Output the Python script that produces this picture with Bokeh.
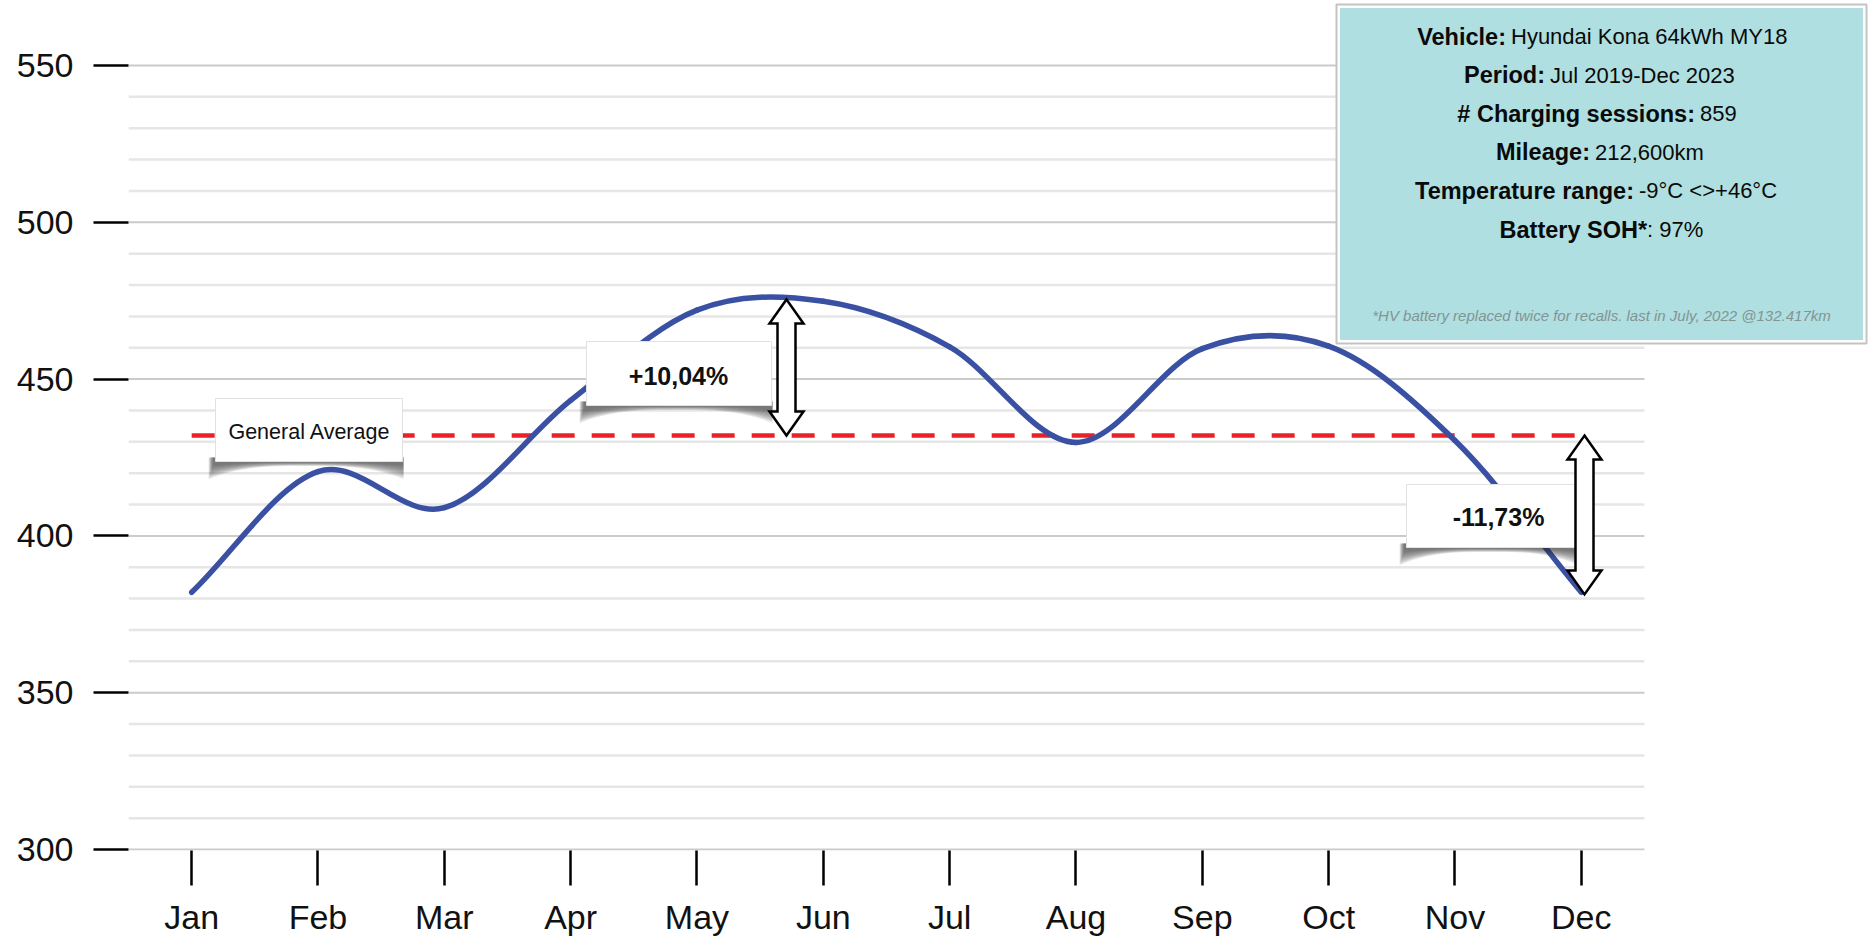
import numpy as np
from bokeh.plotting import figure
from bokeh.models import Range1d, FixedTicker, Label, BoxAnnotation
from bokeh.embed import file_html
from bokeh.resources import INLINE

# ---------------- data ----------------
months = ["Jan", "Feb", "Mar", "Apr", "May", "Jun", "Jul", "Aug", "Sep", "Oct", "Nov", "Dec"]
values = [382.0, 420.5, 409.0, 443.2, 472.0, 474.8, 460.3, 429.8, 459.7, 460.5, 430.4, 382.0]
general_average = 432.0
pct_above = 10.04
pct_below = -11.73
y_ticks = [300, 350, 400, 450, 500, 550]
y_minor_ticks = [310, 320, 330, 340, 360, 370, 380, 390, 410, 420, 430, 440,
                 460, 470, 480, 490, 510, 520, 530, 540]
info_bold = ["Vehicle:", "Period:", "# Charging sessions:", "Mileage:", "Temperature range:", "Battery SOH*"]
info_regular = ["Hyundai Kona 64kWh MY18", "Jul 2019-Dec 2023", "859", "212,600km", "-9°C <>+46°C", ": 97%"]
info_note = "*HV battery replaced twice for recalls. last in July, 2022 @132.417km"
avg_label = "General Average"

# ---------------- layout helpers (page pixels -> data) ----------------
W, H = 1870, 939
LEFT, TOP = 128, 0
FW, FH = W - LEFT, 850
SX = 126.33                      # px per month
SY = 3.136                       # px per unit
X0 = -0.5
X1 = X0 + FW / SX
Y1 = 550 + 65 / SY
Y0 = Y1 - FH / SY
PLOT_RIGHT = X0 + len(months)    # end of the gridded plot area


def X(px):
    return X0 + (px - LEFT) / SX


def Y(py):
    return Y1 - (py - TOP) / SY


def DX(d):
    return d / SX


def DY(d):
    return d / SY


FONT = "Liberation Sans"

p = figure(frame_width=FW, frame_height=FH,
           x_range=Range1d(X0, X1), y_range=Range1d(Y0, Y1),
           min_border_left=LEFT, min_border_right=0, min_border_top=TOP,
           min_border_bottom=H - FH - TOP,
           output_backend="svg", toolbar_location=None)
p.outline_line_color = None
p.background_fill_color = "white"
p.border_fill_color = "white"

# axes
p.xaxis.ticker = FixedTicker(ticks=list(range(len(months))))
p.xaxis.major_label_overrides = {i: m for i, m in enumerate(months)}
p.yaxis.ticker = FixedTicker(ticks=y_ticks)
for ax in (p.xaxis[0], p.yaxis[0]):
    ax.axis_line_color = None
    ax.major_tick_in = 0
    ax.major_tick_out = 35
    ax.major_tick_line_color = "black"
    ax.major_tick_line_width = 2.5
    ax.minor_tick_line_color = None
    ax.major_label_text_font = FONT
    ax.major_label_text_font_size = "34px"
    ax.major_label_text_color = "#111111"
p.yaxis.major_label_standoff = 20
p.xaxis.major_label_standoff = 12

# horizontal gridlines limited to the month area
p.xgrid.grid_line_color = None
p.ygrid.grid_line_color = None
p.segment(x0=[X0] * len(y_minor_ticks), y0=y_minor_ticks, x1=[PLOT_RIGHT] * len(y_minor_ticks),
          y1=y_minor_ticks, line_color="#e6e6e6", line_width=2.5)
p.segment(x0=[X0] * len(y_ticks), y0=y_ticks, x1=[PLOT_RIGHT] * len(y_ticks),
          y1=y_ticks, line_color="#cbcbcb", line_width=2)

# general average line
xs = list(range(len(months)))
p.line([xs[0], xs[-1]], [general_average, general_average], line_color="#ea2228",
       line_width=4.5, line_dash="23 17")

# smooth curve (Catmull-Rom through the monthly values)
px = np.array(xs, dtype=float)
py = np.array(values, dtype=float)
ppx = np.concatenate([[2 * px[0] - px[1]], px, [2 * px[-1] - px[-2]]])
ppy = np.concatenate([[2 * py[0] - py[1]], py, [2 * py[-1] - py[-2]]])
x0s, y0s, x1s, y1s, cx0, cy0, cx1, cy1 = [], [], [], [], [], [], [], []
for i in range(len(px) - 1):
    P0x, P1x, P2x, P3x = ppx[i], ppx[i + 1], ppx[i + 2], ppx[i + 3]
    P0y, P1y, P2y, P3y = ppy[i], ppy[i + 1], ppy[i + 2], ppy[i + 3]
    x0s.append(P1x); y0s.append(P1y); x1s.append(P2x); y1s.append(P2y)
    cx0.append(P1x + (P2x - P0x) / 6); cy0.append(P1y + (P2y - P0y) / 6)
    cx1.append(P2x - (P3x - P1x) / 6); cy1.append(P2y - (P3y - P1y) / 6)
p.bezier(x0=x0s, y0=y0s, x1=x1s, y1=y1s, cx0=cx0, cy0=cy0, cx1=cx1, cy1=cy1,
         line_color="#3a50a2", line_width=5.5, line_cap="round")


# label boxes with "paper lift" shadows
def shadow(l, r, b):
    t = np.linspace(0, 1, 61)
    n = 14
    for k in range(n):
        f = 1 - k / n
        depth = 3 + 15 * f
        mid = 0.5 + 4 * f
        xl, xr = l - 2 - 5 * f, r + 1
        xb = xl + (xr - xl) * t
        yb = b + mid + (depth - mid) * np.abs(2 * t - 1) ** 3
        sx = [X(xl), X(xr)] + [X(v) for v in xb[::-1]]
        sy = [Y(b - 4), Y(b - 4)] + [Y(v) for v in yb[::-1]]
        p.patch(sx, sy, fill_color="#282828", fill_alpha=0.065, line_color=None)


def paper_box(l, r, t, b):
    shadow(l, r, b)
    p.quad(left=[X(l)], right=[X(r)], top=[Y(t)], bottom=[Y(b)],
           fill_color="white", line_color="#e2e2e2", line_width=1)


boxes = {"avg": (215, 402, 398, 461), "up": (586, 771, 341, 405), "down": (1406, 1577, 484, 547)}
for k in boxes:
    paper_box(*boxes[k])


# double-headed block arrows
def block_arrow(cx, y_top, y_bot):
    hw, sw, hl = DX(17), DX(9), DY(24)
    axs = [cx, cx + hw, cx + sw, cx + sw, cx + hw, cx, cx - hw, cx - sw, cx - sw, cx - hw]
    ays = [y_top, y_top - hl, y_top - hl, y_bot + hl, y_bot + hl, y_bot,
           y_bot + hl, y_bot + hl, y_top - hl, y_top - hl]
    p.patch(axs, ays, fill_color="white", line_color="black", line_width=2.5, line_join="miter")


block_arrow(X(786), general_average * (1 + pct_above / 100), general_average)
block_arrow(X(1584), general_average, general_average * (1 + pct_below / 100))


def fmt_pct(v):
    return ("%+.2f%%" % v).replace(".", ",")


p.add_layout(Label(x=X(309), y=Y(431), text=avg_label, text_align="center", text_baseline="middle",
                   text_font=FONT, text_font_size="21.5px", text_color="#111111"))
p.add_layout(Label(x=X(678), y=Y(375), text=fmt_pct(pct_above), text_align="center",
                   text_baseline="middle", text_font=FONT, text_font_style="bold",
                   text_font_size="25px", text_color="#111111"))
p.add_layout(Label(x=X(1498), y=Y(516), text=fmt_pct(pct_below), text_align="center",
                   text_baseline="middle", text_font=FONT, text_font_style="bold",
                   text_font_size="25px", text_color="#111111"))

# info box
p.add_layout(BoxAnnotation(left=X(1336), right=X(1866), top=Y(4), bottom=Y(343),
                           fill_color="white", fill_alpha=1, line_color="#c4c4c4",
                           line_alpha=1, line_width=2))
p.add_layout(BoxAnnotation(left=X(1339.5), right=X(1862.5), top=Y(7.5), bottom=Y(339.5),
                           fill_color="#afdfe0", fill_alpha=1, line_color=None))

line_y = [36, 74.5, 113, 151.5, 190, 229]
splits = [1508, 1547, 1697, 1592, 1636, 1646.6]
gaps = [2.5, 2.5, 2.5, 2.5, 2.5, 0]
for bt, rt, yy, sp, g in zip(info_bold, info_regular, line_y, splits, gaps):
    p.add_layout(Label(x=X(sp - g), y=Y(yy), text=bt, text_align="right", text_baseline="middle",
                       text_font=FONT, text_font_style="bold", text_font_size="23.5px",
                       text_color="#0a0a0a"))
    p.add_layout(Label(x=X(sp + g), y=Y(yy), text=rt, text_align="left", text_baseline="middle",
                       text_font=FONT, text_font_size="22px", text_color="#0a0a0a"))
p.add_layout(Label(x=X(1601), y=Y(315), text=info_note, text_align="center", text_baseline="middle",
                   text_font=FONT, text_font_style="italic", text_font_size="15px",
                   text_color="#839494"))

open("out.html", "w").write(file_html(p, INLINE))
